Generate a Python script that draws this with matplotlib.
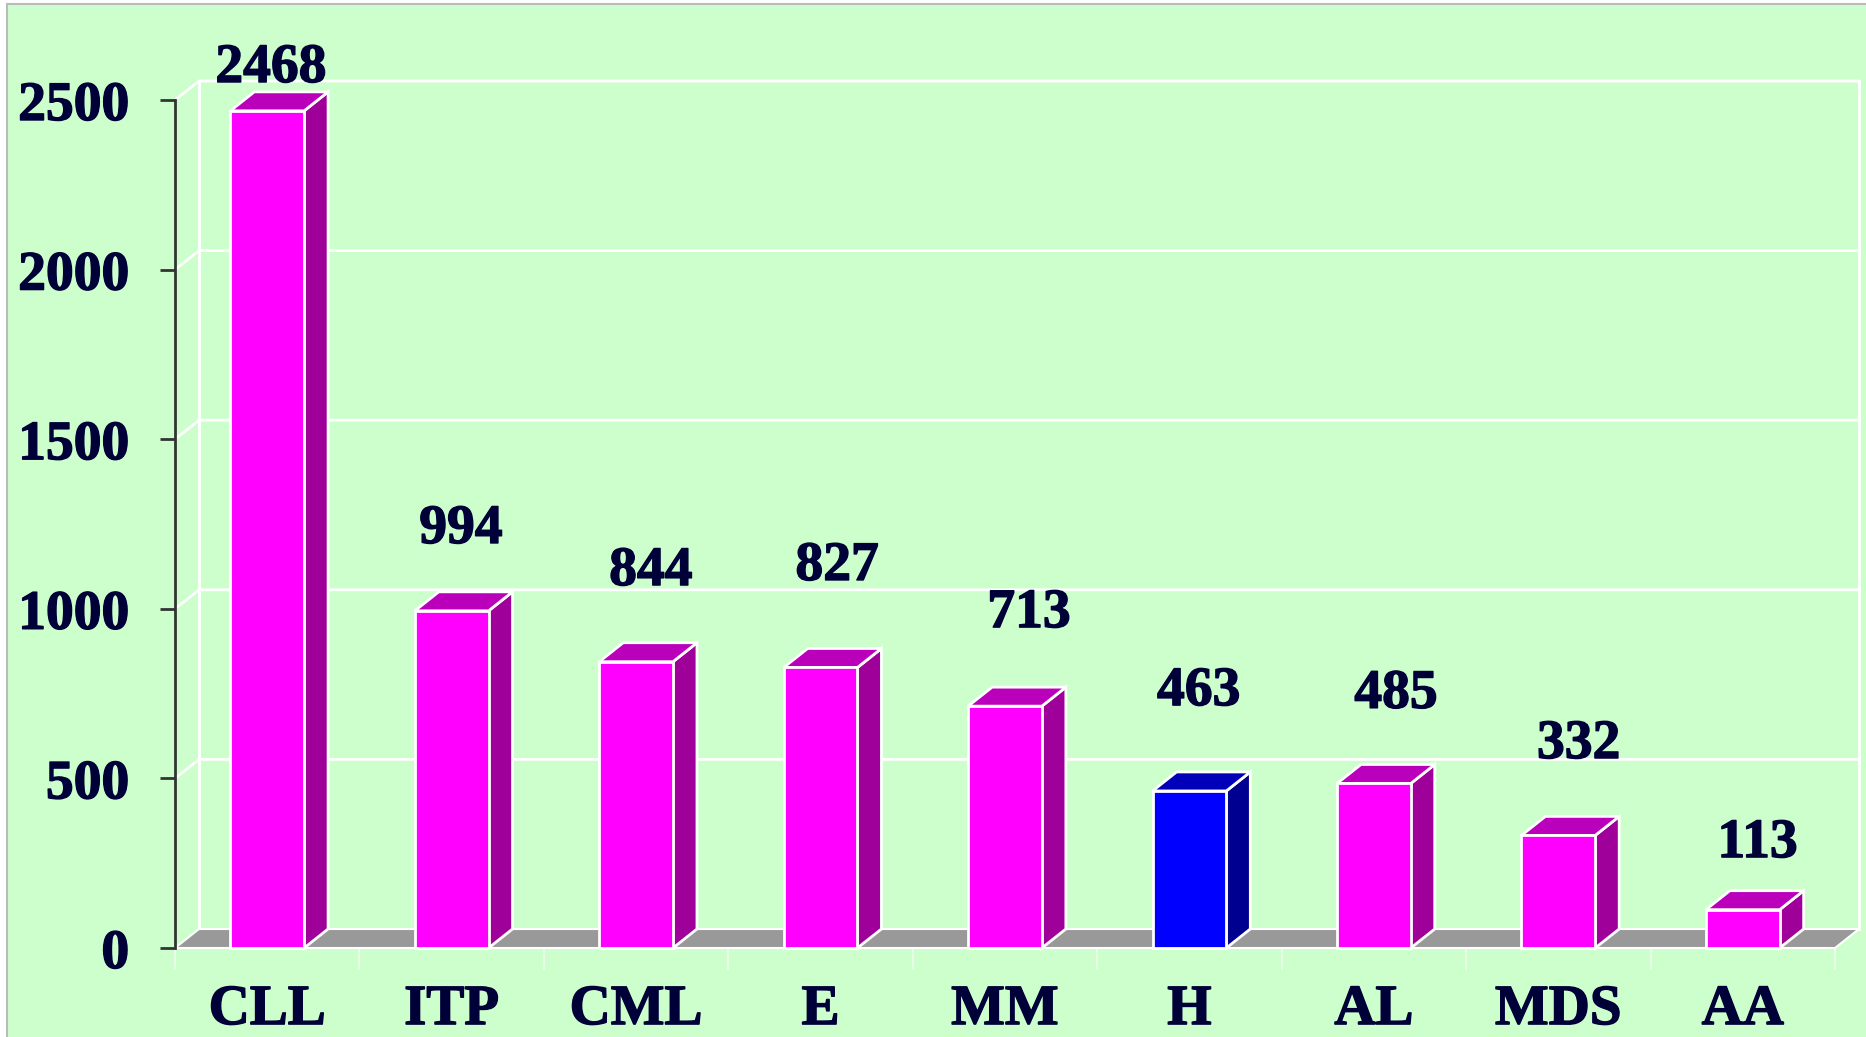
import matplotlib.pyplot as plt
import matplotlib.patches as patches
import matplotlib.patheffects as pe
import numpy as np

# cases per diagnosis
categories = ['CLL', 'ITP', 'CML', 'E', 'MM', 'H', 'AL', 'MDS', 'AA']
counts = [2468, 994, 844, 827, 713, 463, 485, 332, 113]
highlight = 'H'
y_ticks = [0, 500, 1000, 1500, 2000, 2500]

# hand placement of the value labels above each bar
label_shift = [0.02, 0.05, 0.08, 0.09, 0.13, 0.05, 0.12, 0.11, 0.08]
label_lift = [85, 200, 226, 258, 233, 253, 223, 228, 155]

TEXT = '#000038'
FONT = 'Liberation Serif'
BAR_W = 0.4
DX, DY = 0.13, 56   # depth of the fake 3d box (x in slots, y in data units)
heavy = [pe.withStroke(linewidth=1.0, foreground=TEXT)]

fig = plt.figure(figsize=(18.66, 10.37), dpi=100, facecolor='white')
fig.patches.append(patches.Rectangle((7 / 1866, -0.01), 1.01, 1.01 - 4 / 1037,
                                     transform=fig.transFigure, facecolor='#CCFFCC',
                                     edgecolor='#BBBBBB', lw=1.5, zorder=-10))

ax = fig.add_axes([175 / 1866, 89 / 1037, 1660 / 1866, 848 / 1037])
ax.set_facecolor('none')
ax.set_xlim(-0.5, len(categories) - 0.5)
ax.set_ylim(0, 2500)
x0, x1 = -0.5, len(categories) - 0.5

# back wall and side wall gridlines
for v in y_ticks[1:]:
    ax.plot([x0, x0 + DX, x1 + DX], [v, v + DY, v + DY], color='white', lw=2,
            clip_on=False, zorder=1, solid_capstyle='butt')
ax.plot([x0 + DX, x0 + DX], [DY, 2500 + DY], color='white', lw=2, clip_on=False, zorder=1)
ax.plot([x1 + DX, x1 + DX], [DY, 2500 + DY], color='white', lw=2, clip_on=False, zorder=1)

# floor
floor = patches.Polygon([(x0, 0), (x1, 0), (x1 + DX, DY), (x0 + DX, DY)],
                        closed=True, facecolor='#999999', edgecolor='white', lw=1.5,
                        clip_on=False, zorder=2)
ax.add_patch(floor)

for i, (cat, v) in enumerate(zip(categories, counts)):
    if cat == highlight:
        front, side, top = '#0000FF', '#000090', '#0000B8'
    else:
        front, side, top = '#FF00FF', '#A0009A', '#BB00BB'
    l, r = i - BAR_W / 2, i + BAR_W / 2
    ax.add_patch(patches.Polygon([(r, 0), (r + DX, DY), (r + DX, v + DY), (r, v)],
                                 facecolor=side, edgecolor='white', lw=2,
                                 clip_on=False, zorder=3))
    ax.add_patch(patches.Polygon([(l, v), (r, v), (r + DX, v + DY), (l + DX, v + DY)],
                                 facecolor=top, edgecolor='white', lw=2,
                                 clip_on=False, zorder=3))
    ax.add_patch(patches.Rectangle((l, 0), BAR_W, v, facecolor=front,
                                   edgecolor='white', lw=2, clip_on=False, zorder=4))
    ax.text(i + label_shift[i], v + label_lift[i], str(v), ha='center', va='baseline',
            fontsize=40, fontweight='bold', family=FONT, color=TEXT,
            clip_on=False, zorder=5, path_effects=heavy)

for s in ['top', 'right', 'bottom']:
    ax.spines[s].set_visible(False)
ax.spines['left'].set_color('#333333')
ax.spines['left'].set_linewidth(2)

ax.set_yticks(y_ticks)
ax.set_yticklabels([str(t) for t in y_ticks])
ax.tick_params(axis='y', length=11, width=2, color='#333333', pad=22,
               labelsize=40, labelcolor=TEXT)

ax.set_xticks(np.arange(len(categories)))
ax.set_xticklabels(categories)
ax.set_xticks(np.arange(len(categories) + 1) - 0.5, minor=True)
ax.tick_params(axis='x', which='major', length=0, pad=26, labelsize=41, labelcolor=TEXT)
ax.tick_params(axis='x', which='minor', length=16, width=1.5, color='#E6FFE6')

for lab in ax.get_xticklabels() + ax.get_yticklabels():
    lab.set_family(FONT)
    lab.set_fontweight('bold')
    lab.set_path_effects(heavy)

fig.savefig('out.png', dpi=100, facecolor=fig.get_facecolor())
